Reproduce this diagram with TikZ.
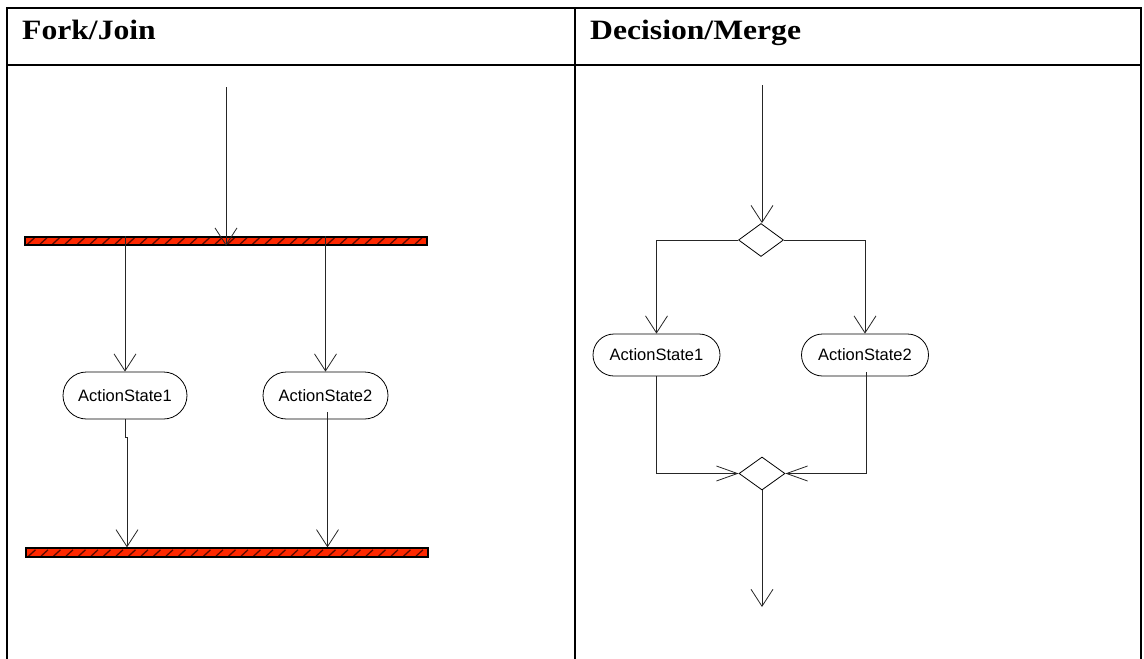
\documentclass[tikz,border=0pt]{standalone}
\usepackage{fontspec}
\setmainfont{Liberation Serif}
\newfontfamily\labelfont{Liberation Sans}
\usetikzlibrary{arrows.meta,shapes.misc,shapes.geometric,calc}

\definecolor{barred}{RGB}{255,40,0}
\definecolor{hatch}{RGB}{90,10,0}

\begin{document}
\begin{tikzpicture}[x=1pt,y=-1pt,
  frame/.style={line width=2.2pt},
  flow/.style={line width=0.8pt, draw=black!85},
  arr/.style={flow, -{Straight Barb[length=17pt,width=22pt]}},
  sidearr/.style={flow, -{Straight Barb[length=21pt,width=15pt]}},
  syncbar/.style={rectangle, draw=black, line width=1.3pt, fill=barred,
    inner sep=0pt, minimum height=8pt,
    path picture={
      \foreach \k in {0,...,32}
        \draw[hatch, line width=1.3pt]
          ($(path picture bounding box.south west)+(\k*12.5+2.5,-0.8)$) -- ++(7,-6.4);
    }},
  action/.style={rounded rectangle, draw, line width=0.8pt, inner sep=0pt,
    font=\labelfont\fontsize{16.5}{16.5}\selectfont},
  choice/.style={diamond, draw, line width=0.8pt, inner sep=0pt,
    minimum width=45pt, minimum height=33pt},
  head/.style={anchor=base west, inner sep=0pt,
    font=\bfseries\fontsize{28}{28}\selectfont}
]
\useasboundingbox (0,0) rectangle (1144,659);

% table frame
\draw[frame] (7,659) -- (7,8) -- (1141,8) -- (1141,659);
\draw[frame] (7,65) -- (1141,65);
\draw[frame] (575,8) -- (575,659);

% column headings
\node[head] (hfork) at (22,39) {\scalebox{1.13}[1]{Fork/Join}};
\node[head] (hdec) at (590,39) {\scalebox{1.13}[1]{Decision/Merge}};

% fork / join
\coordinate (fin) at (226,87);
\node[syncbar, minimum width=402pt] (fork) at (226,241) {};
\node[syncbar, minimum width=402pt, minimum height=9pt] (join) at (227,552.5) {};
\node[action, minimum width=124pt, minimum height=47pt] (a1) at (125,395.5) {ActionState1};
\node[action, minimum width=125pt, minimum height=47pt] (a2) at (325.5,395.5) {ActionState2};

\draw[arr] (fin) -- (fin |- fork.south);
\draw[arr] (fork.north -| a1.north) -- (a1.north);
\draw[arr] (fork.north -| a2.north) -- (a2.north);
\draw[arr] (a1.south) -- ++(0,18) -- ++(2,0) coordinate (jog) -- (jog |- join.north);
\draw[arr] ([xshift=2pt,yshift=7pt]a2.south) coordinate (s2) -- (s2 |- join.north);

% decision / merge
\coordinate (din) at (762,85);
\node[choice] (dec) at (761,240) {};
\node[action, minimum width=127pt, minimum height=42pt] (b1) at (656.5,355) {ActionState1};
\node[action, minimum width=127pt, minimum height=42pt] (b2) at (865,355) {ActionState2};
\node[choice, minimum width=46pt] (mer) at (762,473.5) {};
\coordinate (dout) at (762,607);

\draw[arr] (din) -- (din |- dec.north);
\draw[arr] (dec.west) -| (b1.north);
\draw[arr] (dec.east) -| (b2.north);
\draw[sidearr] (b1.south) |- (mer.west);
\draw[sidearr] ([xshift=1pt,yshift=4pt]b2.south) |- (mer.east);
\draw[arr] (mer.south) -- (dout);
\end{tikzpicture}
\end{document}
